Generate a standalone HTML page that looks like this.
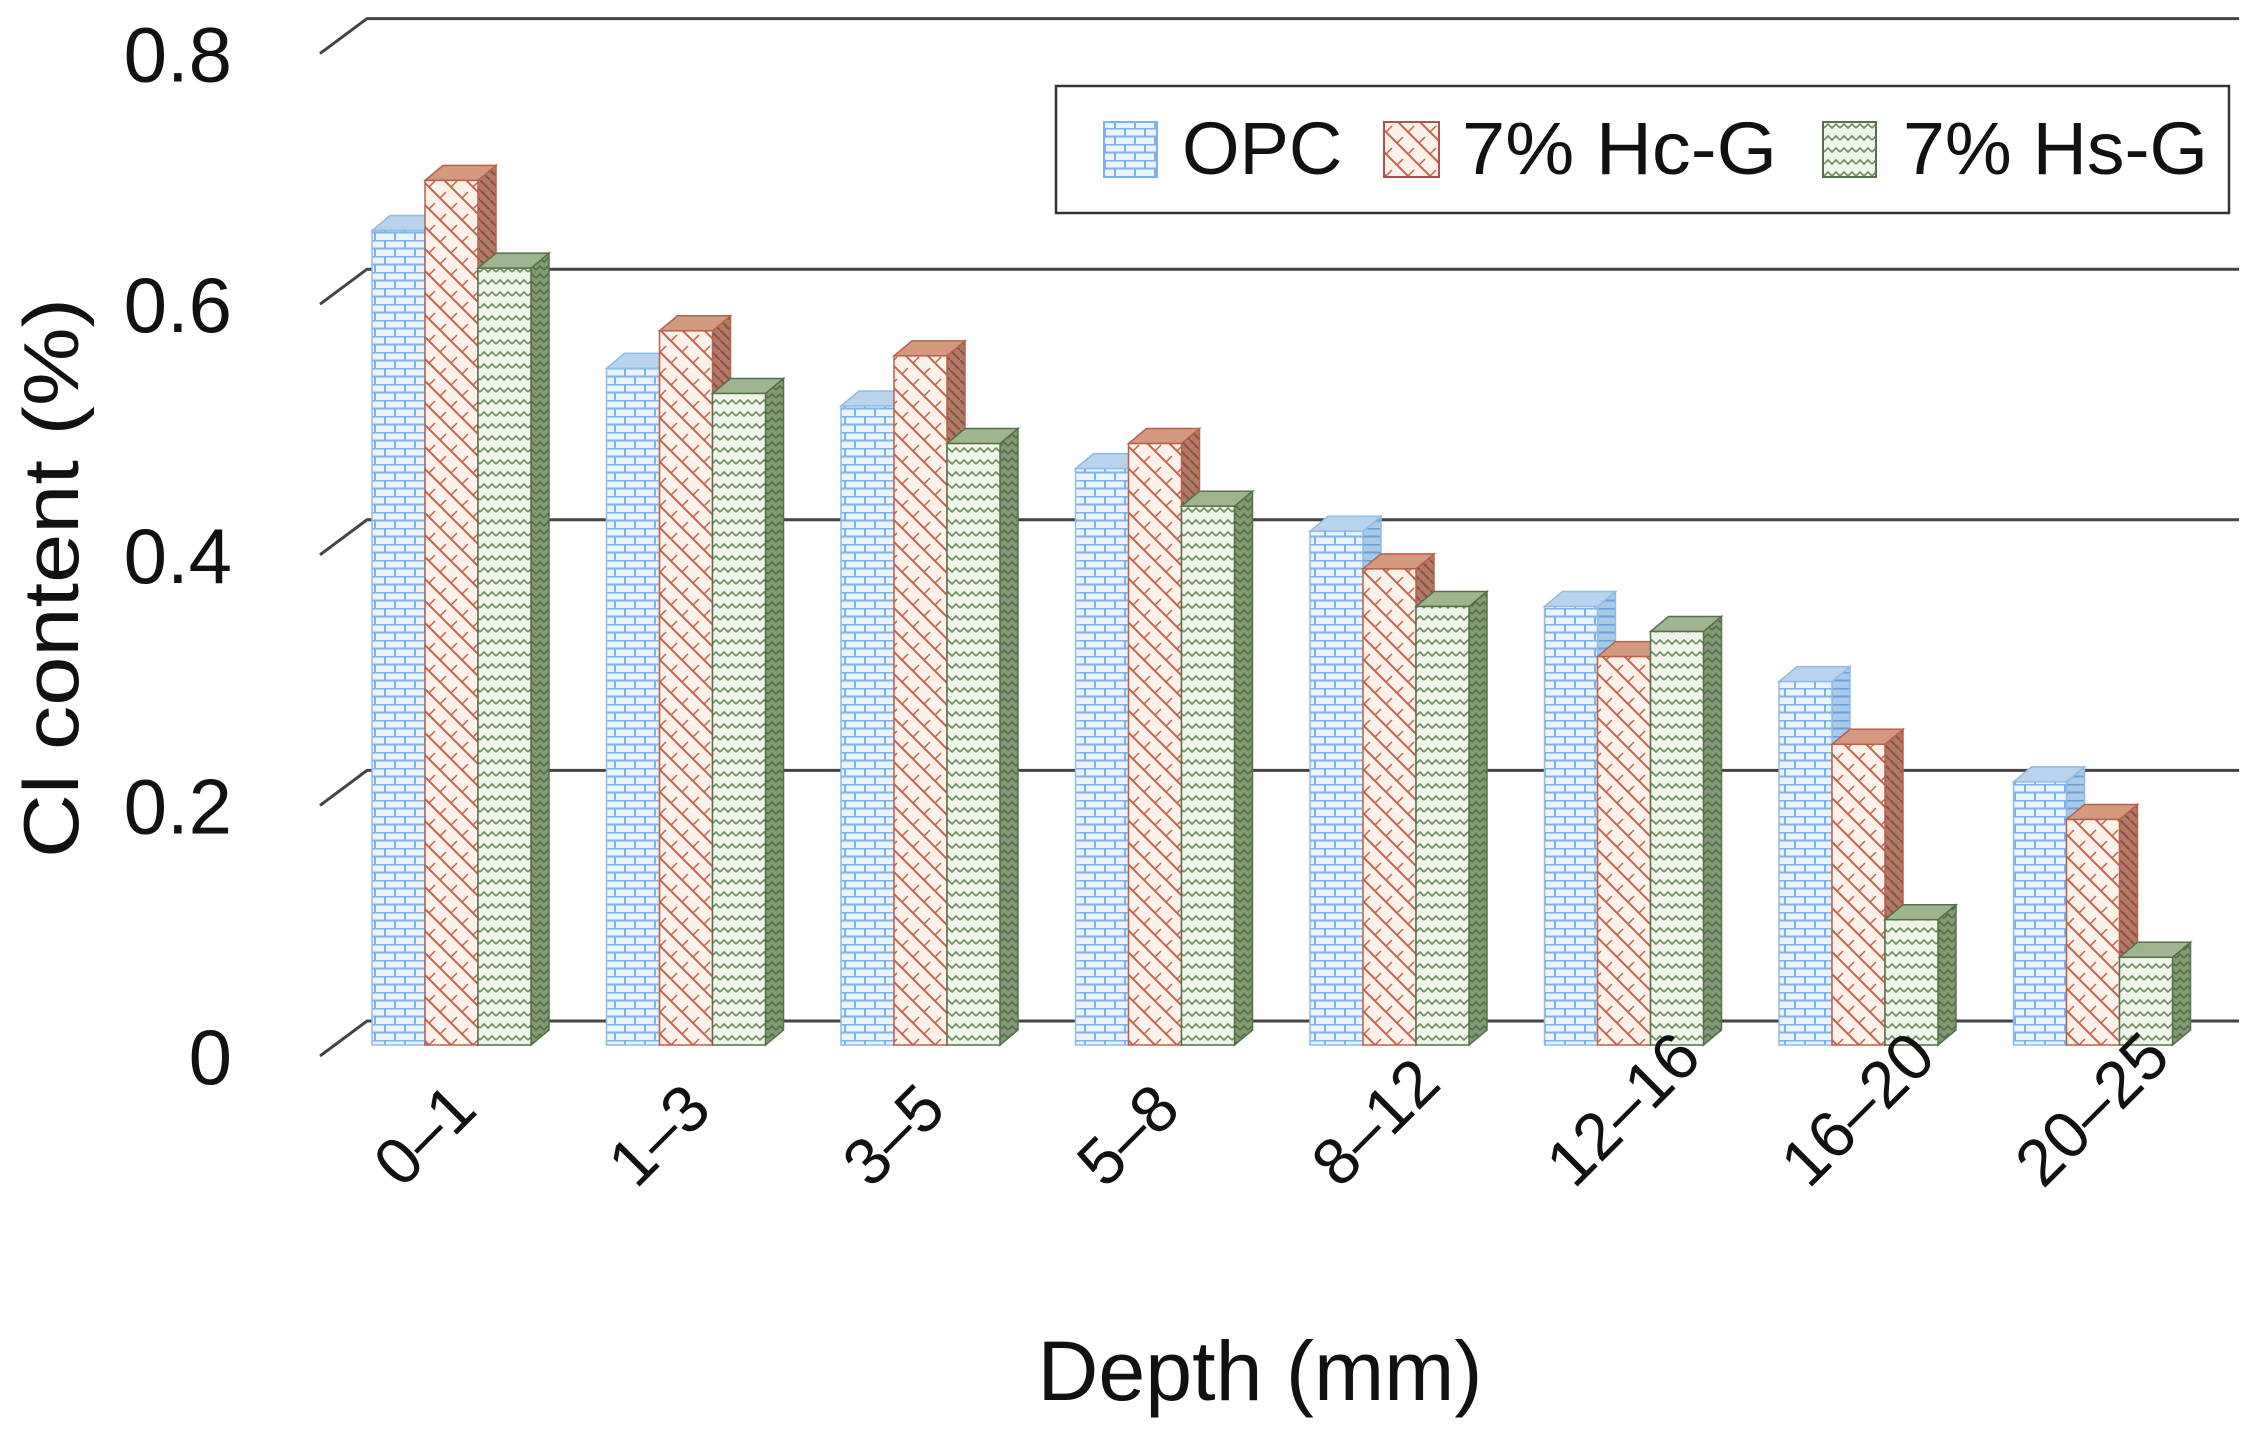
<!DOCTYPE html>
<html><head><meta charset="utf-8">
<style>
html,body{margin:0;padding:0;background:#fff;}
svg{display:block;}
text{font-family:"Liberation Sans","DejaVu Sans",sans-serif;fill:#111;}
</style></head>
<body>
<svg id="chart" width="2259" height="1444" viewBox="0 0 2259 1444" xmlns="http://www.w3.org/2000/svg">
<defs>
  <pattern id="pBrick" width="20" height="16" patternUnits="userSpaceOnUse">
    <rect width="20" height="16" fill="#eaf3fc"/>
    <path d="M0 0.5H20M0 8.5H20M5 0V8M15 8V16" stroke="#7fb2e6" stroke-width="2" fill="none"/>
  </pattern>
  <pattern id="pBrickSide" width="10" height="16" patternUnits="userSpaceOnUse">
    <rect width="10" height="16" fill="#a9c9ea"/>
    <path d="M0 0.5H10M0 8.5H10" stroke="#6e9fd3" stroke-width="2"/>
  </pattern>
  <pattern id="pCross" width="22" height="22" patternUnits="userSpaceOnUse">
    <rect width="22" height="22" fill="#fdf1ea"/>
    <path d="M0 0L22 22M-11 11L11 33M11 -11L33 11" stroke="#c0664c" stroke-width="2"/>
    <path d="M0 22L6 16M11 11L17 5" stroke="#c0664c" stroke-width="1.5"/>
  </pattern>
  <pattern id="pCrossSide" width="10" height="10" patternUnits="userSpaceOnUse">
    <rect width="10" height="10" fill="#b07a66"/>
    <path d="M0 0L10 10" stroke="#8a5040" stroke-width="2"/>
  </pattern>
  <pattern id="pWave" width="16" height="12" patternUnits="userSpaceOnUse">
    <rect width="16" height="12" fill="#eef5e8"/>
    <path d="M0 8L4 4L8 8L12 4L16 8" stroke="#6f8a62" stroke-width="1.6" fill="none"/>
  </pattern>
  <pattern id="pWaveSide" width="8" height="8" patternUnits="userSpaceOnUse">
    <rect width="8" height="8" fill="#7f9a72"/>
    <path d="M0 6L4 2L8 6" stroke="#52693f" stroke-width="1.5" fill="none"/>
  </pattern>
</defs>
<g id="grid"></g>
<g id="bars"></g>
<g id="labels"></g>
<text x="0" y="0" transform="translate(78,578) rotate(-90)" text-anchor="middle" font-size="78" textLength="560" lengthAdjust="spacingAndGlyphs">Cl content (%)</text>
<text x="1260" y="1400" text-anchor="middle" font-size="84" textLength="445" lengthAdjust="spacingAndGlyphs">Depth (mm)</text>
<g>
  <rect x="1056" y="86" width="1173" height="127" fill="#fff" stroke="#333" stroke-width="2.5"/>
  <g>
    <rect x="1104" y="122" width="53" height="55" fill="url(#pBrick)" stroke="#7fb2e6" stroke-width="2"/>
    <text x="1182" y="174" font-size="74">OPC</text>
  </g>
  <g>
    <rect x="1384" y="122" width="55" height="55" fill="url(#pCross)" stroke="#b05050" stroke-width="2"/>
    <text x="1462" y="174" font-size="74" textLength="315" lengthAdjust="spacingAndGlyphs">7% Hc-G</text>
  </g>
  <g>
    <rect x="1823" y="122" width="53" height="55" fill="url(#pWave)" stroke="#56704a" stroke-width="2"/>
    <text x="1903" y="174" font-size="74" textLength="305" lengthAdjust="spacingAndGlyphs">7% Hs-G</text>
  </g>
</g>
<script>
const categories = ["0–1","1–3","3–5","5–8","8–12","12–16","16–20","20–25"];
const seriesNames = ["OPC","7% Hc-G","7% Hs-G"];
const opcValues = [0.65,0.54,0.51,0.46,0.41,0.35,0.29,0.21];
const hcValues  = [0.69,0.57,0.55,0.48,0.38,0.31,0.24,0.18];
const hsValues  = [0.62,0.52,0.48,0.43,0.35,0.33,0.10,0.07];
const yTicks = [0,0.2,0.4,0.6,0.8];
const yTickLabels = ["0","0.2","0.4","0.6","0.8"];

const NS = "http://www.w3.org/2000/svg";
const backBase = 1021, unit = 1253, backLeft = 367, backRight = 2239;
const floorDx = 47, floorDy = 35;
const barBase = 1045, barW = 53, depthDx = 18, depthDy = 15;
const group0 = 372, groupStep = 234.5;
function yBack(v){ return backBase - v*unit; }
function yBar(v){ return barBase - v*unit; }
function xBar(ci, si){ return group0 + ci*groupStep + si*barW; }
function mk(tag, attrs, parent){
  const e = document.createElementNS(NS, tag);
  for (const k in attrs) e.setAttribute(k, attrs[k]);
  parent.appendChild(e); return e;
}
const grid = document.getElementById('grid');
yTicks.forEach((t,i)=>{
  const y = yBack(t);
  const g = mk('g', {}, grid);
  
  
  mk('path', {d:`M${backLeft-floorDx} ${y+floorDy}L${backLeft} ${y}H${backRight}`, stroke:'#444', 'stroke-width':3, fill:'none'}, g);
  const tx = mk('text', {x:232, y:y+floorDy+28, 'text-anchor':'end', 'font-size':78}, g);
  tx.textContent = yTickLabels[i];
  
  
});
const bars = document.getElementById('bars');
const allSeries = [opcValues, hcValues, hsValues];
const fills = [['url(#pBrick)','url(#pBrickSide)','#b9d3ee','#8fbbe8'],
               ['url(#pCross)','url(#pCrossSide)','#d49a80','#b8604a'],
               ['url(#pWave)','url(#pWaveSide)','#9fb590','#56704a']];
const seriesKeys = ['opc','hc-g','hs-g'];
categories.forEach((c,ci)=>{
  allSeries.forEach((vals,si)=>{
    const v = vals[ci];
    const x = xBar(ci,si), yt = yBar(v), h = barBase - yt;
    const f = fills[si];
    const g = mk('g', {}, bars);
    
    
    mk('path', {d:`M${x+barW} ${yt}l${depthDx} ${-depthDy}V${barBase-depthDy}l${-depthDx} ${depthDy}Z`, fill:f[1], stroke:f[3], 'stroke-width':1.5}, g);
    mk('path', {d:`M${x} ${yt}l${depthDx} ${-depthDy}h${barW}l${-depthDx} ${depthDy}Z`, fill:f[2], stroke:f[3], 'stroke-width':1.5}, g);
    mk('rect', {x:x, y:yt, width:barW, height:h, fill:f[0], stroke:f[3], 'stroke-width':1.5}, g);
  });
});
const labels = document.getElementById('labels');
categories.forEach((c,ci)=>{
  const cx = group0 + ci*groupStep + 1.5*barW;
  const sx = cx - 50, sy = 1190;
  const t = mk('text', {x:0, y:0, transform:`translate(${sx},${sy}) rotate(-45)`, 'font-size':66}, labels);
  t.textContent = c;
  
  
});
</script>
</svg>
</body></html>
